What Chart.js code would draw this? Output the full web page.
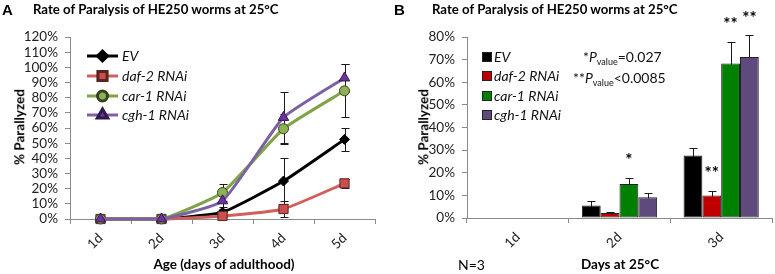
<!DOCTYPE html>
<html>
<head>
<meta charset="utf-8">
<script src="https://cdn.jsdelivr.net/npm/chart.js@4.4.1/dist/chart.umd.min.js"></script>
<style>
  body { margin: 0; background: #fff; font-family: Lato, sans-serif; }
  #wrap { position: relative; width: 775px; height: 274px; overflow: hidden; }
  canvas { position: absolute; top: 0; }
  .t { position: absolute; white-space: nowrap; color: #000; line-height: 1; }
  .panel { font-family: "Liberation Sans", sans-serif; font-weight: bold; font-size: 15px; }
  .ttl { font-size: 13.2px; font-weight: bold; }
  .ax { font-size: 13.5px; font-weight: bold; transform: translate(-50%, -50%); }
  .yt { font-size: 13.5px; font-weight: bold; transform: translate(-50%, -50%) rotate(-90deg); }
  .pv { font-size: 14px; color: #111; }
  .pv sub { font-size: 9px; vertical-align: -3px; }
</style>
</head>
<body>
<div id="wrap">
  <canvas id="chartA" width="387" height="274" style="left:0"></canvas>
  <canvas id="chartB" width="388" height="274" style="left:387px"></canvas>

  <div class="t panel" style="left:2px;top:2px">A</div>
  <div class="t ttl" style="left:33px;top:3px">Rate of Paralysis of HE250 worms at 25°C</div>
  <div class="t yt" style="left:20px;top:127px">% Parallyzed</div>
  <div class="t ax" style="left:224px;top:265px">Age (days of adulthood)</div>

  <div class="t panel" style="left:394px;top:2px">B</div>
  <div class="t ttl" style="left:432px;top:3px">Rate of Paralysis of HE250 worms at 25°C</div>
  <div class="t yt" style="left:424px;top:127px">% Parallyzed</div>
  <div class="t ax" style="left:620px;top:265px">Days at 25°C</div>
  <div class="t" style="left:458px;top:258px;font-size:14px">N=3</div>
  <div class="t pv" style="left:583px;top:50px">*<i>P</i><sub>value</sub>=0.027</div>
  <div class="t pv" style="left:573px;top:71px">**<i>P</i><sub>value</sub>&lt;0.0085</div>
</div>
<script>
// panel A: paralysis over age
const daysA = ['1d', '2d', '3d', '4d', '5d'];
const evA = [0, 0, 4.5, 25, 52.5];
const evErrA = [0, 0, 2, 15, 7.5];
const daf2A = [0, 0, 2, 6.6, 23.5];
const daf2ErrA = [0, 0, 1, 5, 3];
const car1A = [0, 0, 17.5, 59.5, 84.5];
const car1ErrA = [0, 0, 5.5, 10, 17.5];
const cgh1A = [0, 0, 12, 67, 93];
const cgh1ErrA = [0, 0, 4, 17, 9.5];

// panel B: days at 25C
const daysB = ['1d', '2d', '3d'];
const evB = [null, 5.5, 27.6];
const evErrB = [0, 2, 3.4];
const daf2B = [null, 2.2, 10];
const daf2ErrB = [0, 0.3, 2];
const car1B = [null, 15, 68.3];
const car1ErrB = [0, 2.9, 9.5];
const cgh1B = [null, 9.2, 71.2];
const cgh1ErrB = [0, 1.8, 9.5];
const daf2StarsB = ['', '', '**'];
const car1StarsB = ['', '*', '**'];
const cgh1StarsB = ['', '', '**'];

const seriesNames = ['EV', 'daf-2 RNAi', 'car-1 RNAi', 'cgh-1 RNAi'];

const axisGray = '#8a8a8a';
const tickFont = { family: 'Lato', size: 13.5 };

const errorBars = {
  id: 'errorBars',
  beforeDatasetsDraw(chart) {
    const ctx = chart.ctx, y = chart.scales.y;
    chart.data.datasets.forEach((ds, i) => {
      if (!ds.errors) return;
      const meta = chart.getDatasetMeta(i);
      ctx.save();
      ctx.strokeStyle = '#1a1a1a';
      ctx.lineWidth = 1;
      meta.data.forEach((el, j) => {
        const v = ds.data[j], e = ds.errors[j];
        if (v == null || !e) return;
        const x = Math.round(el.x) + 0.5;
        const top = Math.round(y.getPixelForValue(v + e)) + 0.5;
        const bot = Math.round(y.getPixelForValue(Math.max(0, v - e))) + 0.5;
        ctx.beginPath();
        ctx.moveTo(x, top); ctx.lineTo(x, bot);
        ctx.moveTo(x - 4, top); ctx.lineTo(x + 4, top);
        ctx.moveTo(x - 4, bot); ctx.lineTo(x + 4, bot);
        ctx.stroke();
      });
      ctx.restore();
    });
  }
};

const stars = {
  id: 'stars',
  afterDatasetsDraw(chart) {
    const ctx = chart.ctx, y = chart.scales.y;
    chart.data.datasets.forEach((ds, i) => {
      if (!ds.stars) return;
      const meta = chart.getDatasetMeta(i);
      ctx.save();
      ctx.fillStyle = '#000';
      ctx.font = 'bold 17px Lato';
      ctx.textAlign = 'center';
      ctx.textBaseline = 'middle';
      meta.data.forEach((el, j) => {
        const s = ds.stars[j];
        if (!s) return;
        const top = y.getPixelForValue(ds.data[j] + ds.errors[j]);
        ctx.fillText(s, el.x, top - 17);
      });
      ctx.restore();
    });
  }
};

const legendA = {
  id: 'legendA',
  afterDraw(chart) {
    const ctx = chart.ctx;
    chart.data.datasets.forEach((ds, i) => {
      const y = [56, 76, 96, 115][i];
      ctx.save();
      ctx.strokeStyle = ds.borderColor;
      ctx.lineWidth = 3;
      ctx.beginPath(); ctx.moveTo(87, y); ctx.lineTo(118, y); ctx.stroke();
      ctx.fillStyle = ds.pointBackgroundColor;
      ctx.strokeStyle = ds.pointBorderColor;
      Chart.helpers.drawPoint(ctx, { pointStyle: ds.pointStyle, radius: ds.pointRadius, rotation: 0, borderWidth: 1 }, 102.5, y);
      ctx.fillStyle = '#111';
      ctx.font = 'italic 14px Lato';
      ctx.textBaseline = 'middle';
      ctx.fillText(ds.label, 122, y);
      ctx.restore();
    });
  }
};

const legendB = {
  id: 'legendB',
  afterDraw(chart) {
    const ctx = chart.ctx;
    chart.data.datasets.forEach((ds, i) => {
      const y = [57, 76, 96, 115][i];
      ctx.save();
      ctx.fillStyle = ds.backgroundColor;
      ctx.strokeStyle = '#222';
      ctx.fillRect(95.5, y - 4.5, 9, 9);
      ctx.strokeRect(95.5, y - 4.5, 9, 9);
      ctx.fillStyle = '#111';
      ctx.font = 'italic 14px Lato';
      ctx.textBaseline = 'middle';
      ctx.fillText(ds.label, 107, y);
      ctx.restore();
    });
  }
};

function lineSet(label, data, errors, line, fill, edge, style, r, order) {
  return {
    label, data, errors, order,
    borderColor: line, borderWidth: 3, tension: 0.15,
    pointStyle: style, pointRadius: r,
    pointBackgroundColor: fill, pointBorderColor: edge, pointBorderWidth: 1,
    clip: false
  };
}

function barSet(label, data, errors, color, starList) {
  return {
    label, data, errors, stars: starList,
    backgroundColor: color, borderColor: '#222', borderWidth: 1, borderSkipped: false
  };
}

function axes(yMax, yWidth, xHeight) {
  return {
    x: {
      offset: true,
      grid: { offset: true, drawOnChartArea: false, tickLength: 5, color: axisGray },
      border: { color: axisGray },
      ticks: { minRotation: 45, maxRotation: 45, padding: 6, color: '#222', font: tickFont },
      afterFit: s => { s.height = xHeight; }
    },
    y: {
      min: 0, max: yMax,
      grid: { drawOnChartArea: false, tickLength: 5, color: axisGray },
      border: { color: axisGray },
      ticks: { stepSize: 10, autoSkip: false, padding: 7, color: '#222', font: tickFont, callback: v => v + '%' },
      afterFit: s => { s.width = yWidth; }
    }
  };
}

new Chart(document.getElementById('chartA'), {
  type: 'line',
  data: {
    labels: daysA,
    datasets: [
      lineSet(seriesNames[0], evA, evErrA, '#000000', '#000000', '#000000', 'rectRot', 5, 3),
      lineSet(seriesNames[1], daf2A, daf2ErrA, '#d0605b', '#c9504c', '#5a2422', 'rect', 6.5, 2),
      lineSet(seriesNames[2], car1A, car1ErrA, '#80a447', '#8eb154', '#34421e', 'circle', 5, 1),
      lineSet(seriesNames[3], cgh1A, cgh1ErrA, '#7d62a3', '#7030a0', '#2e1a4a', 'triangle', 6, 0)
    ]
  },
  options: {
    responsive: false, animation: false,
    layout: { padding: { top: 37, right: 12, left: 0, bottom: 0 } },
    plugins: { legend: { display: false }, tooltip: { enabled: false } },
    scales: axes(120, 70, 55)
  },
  plugins: [errorBars, legendA]
});

new Chart(document.getElementById('chartB'), {
  type: 'bar',
  data: {
    labels: daysB,
    datasets: [
      barSet(seriesNames[0], evB, evErrB, '#000000', null),
      barSet(seriesNames[1], daf2B, daf2ErrB, '#c00000', daf2StarsB),
      barSet(seriesNames[2], car1B, car1ErrB, '#008000', car1StarsB),
      barSet(seriesNames[3], cgh1B, cgh1ErrB, '#5f4a7d', cgh1StarsB)
    ]
  },
  options: {
    responsive: false, animation: false,
    datasets: { bar: { barPercentage: 1, categoryPercentage: 0.74 } },
    layout: { padding: { top: 37, right: 3, left: 0, bottom: 0 } },
    plugins: { legend: { display: false }, tooltip: { enabled: false } },
    scales: axes(80, 80, 56)
  },
  plugins: [errorBars, stars, legendB]
});
</script>
</body>
</html>
